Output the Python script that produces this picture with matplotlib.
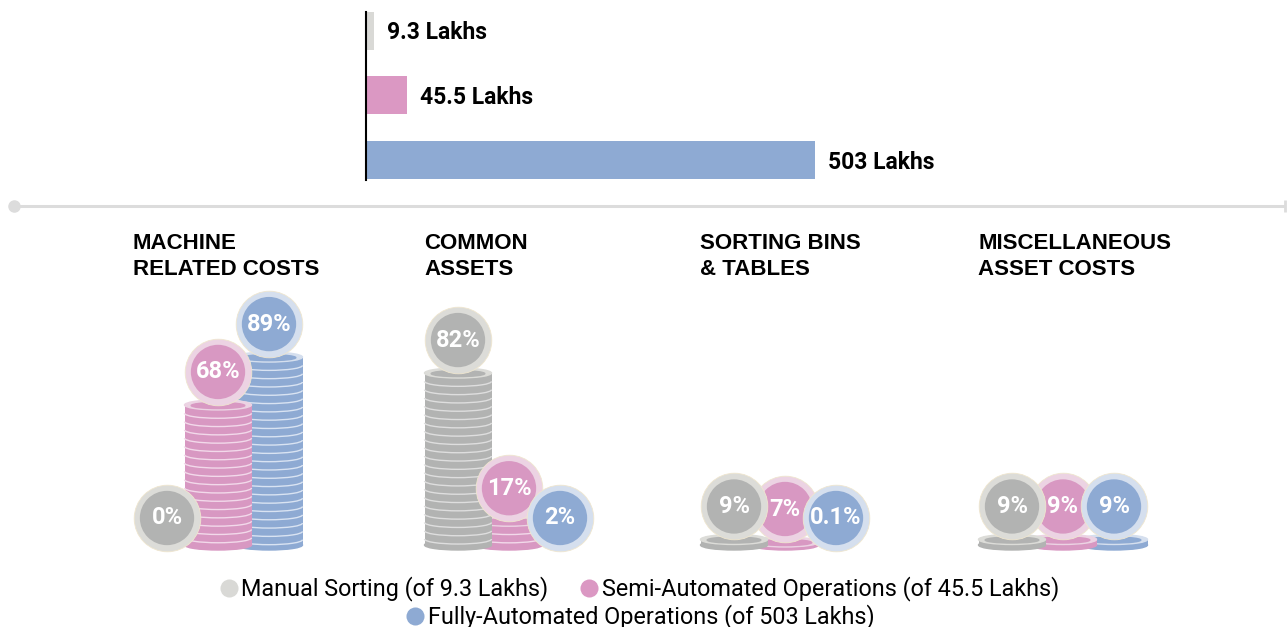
import numpy as np
import matplotlib.pyplot as plt
from matplotlib.patches import Ellipse, Arc
from matplotlib.lines import Line2D

# total cost per setup (lakhs)
totals = [9.3, 45.5, 503]
total_labels = ['9.3 Lakhs', '45.5 Lakhs', '503 Lakhs']
setups = ['Manual Sorting (of 9.3 Lakhs)',
          'Semi-Automated Operations (of 45.5 Lakhs)',
          'Fully-Automated Operations (of 503 Lakhs)']

# share of each cost category (%)
categories = ['MACHINE\nRELATED COSTS', 'COMMON\nASSETS',
              'SORTING BINS\n& TABLES', 'MISCELLANEOUS\nASSET COSTS']
manual_pct = [0, 82, 9, 9]
semi_pct = [68, 17, 7, 9]
fully_pct = [89, 2, 0.1, 9]

# colours
bar_colors = ['#d9d9d6', '#db98c3', '#8eaad3']
coin_colors = ['#b2b3b2', '#d898c2', '#8eaad3']
ring_colors = ['#dcdcd8', '#ecd3e3', '#d5dfee']
line_colors = ['#dedede', '#f2d9ea', '#d9e3f2']

W, H = 1287, 627
fig = plt.figure(figsize=(W / 100, H / 100), dpi=100)

# *****************************************************************
# Top: horizontal bars with totals
# *****************************************************************
ax_bar = fig.add_axes([366 / W, 1 - 180 / H, 449 / W, 168 / H])
ax_bar.barh(range(len(totals)), totals, height=0.59, color=bar_colors)
ax_bar.set_xlim(0, max(totals))
ax_bar.set_ylim(2.31, -0.29)
for i, (v, lab) in enumerate(zip(totals, total_labels)):
    ax_bar.annotate(lab, (v, i), xytext=(9.5, -1.5), textcoords='offset points',
                    va='center', ha='left', fontsize=16.5, fontweight='bold',
                    family='Roboto', annotation_clip=False)
for s in ['top', 'right', 'bottom']:
    ax_bar.spines[s].set_visible(False)
ax_bar.spines['left'].set_linewidth(1.5)
ax_bar.spines['left'].set_color('black')
ax_bar.set_xticks([])
ax_bar.set_yticks([])
ax_bar.patch.set_alpha(0)

# separator line with end dots
ly = 1 - 206 / H
fig.add_artist(Line2D([14 / W, 1284 / W], [ly, ly], color='#dcdcdc', lw=2.2))
fig.add_artist(Line2D([14 / W], [ly], marker='o', markersize=8,
                      color='#dcdcdc', lw=0))
fig.add_artist(Line2D([1285 / W], [ly], marker='|', markersize=9,
                      markeredgewidth=2, color='#dcdcdc', lw=0))

# *****************************************************************
# Coin stacks
# *****************************************************************
ppp = 2.28                # pixels per percent
floor = 15 / ppp          # level where the stacks stand
coin_w = 67
ell_h = 10 / ppp
coin_t = 8.3 / ppp
group_x = [167, 458, 734, 1012]
step = 51

ax = fig.add_axes([0, 1 - 560 / H, 1, 280 / H])
ax.set_xlim(0, W)
ax.set_ylim(0, 280 / ppp)
ax.axis('off')


def draw_stack(x, top, k, z):
    c = coin_colors[k]
    ax.bar(x, top - floor, bottom=floor, width=coin_w, color=c, zorder=z)
    ax.add_patch(Ellipse((x, floor), coin_w, ell_h, color=c, zorder=z))
    for y in np.arange(top - coin_t, floor - 0.1, -coin_t):
        ax.add_patch(Arc((x, y), coin_w, ell_h, theta1=180, theta2=360,
                         color=line_colors[k], lw=1, zorder=z))
    ax.add_patch(Ellipse((x, top), coin_w, ell_h, color=ring_colors[k], zorder=z))
    ax.add_patch(Ellipse((x, top - 0.25), coin_w * 0.8, ell_h * 0.6,
                         color=c, zorder=z))


series = [manual_pct, semi_pct, fully_pct]
circle_z = [12, 11, 12]
for g, cat in enumerate(categories):
    gx = group_x[g]
    fig.text((gx - 34) / W, 1 - 233 / H, cat, ha='left', va='top',
             fontsize=16, fontweight='bold', family='Liberation Sans',
             linespacing=1.3)
    for k in range(3):
        pct = series[k][g]
        x = gx + k * step
        if pct > 5:
            top = max(pct, floor + 3 / ppp)
            draw_stack(x, top, k, 5 - k)
            cy = top + 33 / ppp
        else:
            cy = floor + 27 / ppp
        ax.scatter([x], [cy], s=2300, color=ring_colors[k], edgecolors='#efe6cf',
                   linewidths=0.6, zorder=circle_z[k])
        ax.scatter([x], [cy], s=1530, color=coin_colors[k], edgecolors='none',
                   zorder=circle_z[k])
        ax.text(x, cy, f'{pct:g}%', ha='center', va='center', color='white',
                fontsize=17, fontweight='semibold', family='Roboto',
                zorder=circle_z[k] + 0.5)

# *****************************************************************
# Legend
# *****************************************************************
handles = [Line2D([], [], marker='o', lw=0, markersize=13, color=c,
                  markeredgecolor='none') for c in bar_colors]
leg_kw = dict(frameon=False, handlelength=0.7, handletextpad=0.2,
              columnspacing=1.4, borderpad=0, borderaxespad=0,
              prop={'family': 'Roboto', 'size': 16.8})
leg1 = fig.legend(handles[:2], setups[:2], loc='center', ncol=2,
                  bbox_to_anchor=(640 / W, 1 - 589 / H), **leg_kw)
leg2 = fig.legend(handles[2:], setups[2:], loc='center', ncol=1,
                  bbox_to_anchor=(641 / W, 1 - 617 / H), **leg_kw)

fig.savefig('out.png', dpi=100, facecolor='white')
